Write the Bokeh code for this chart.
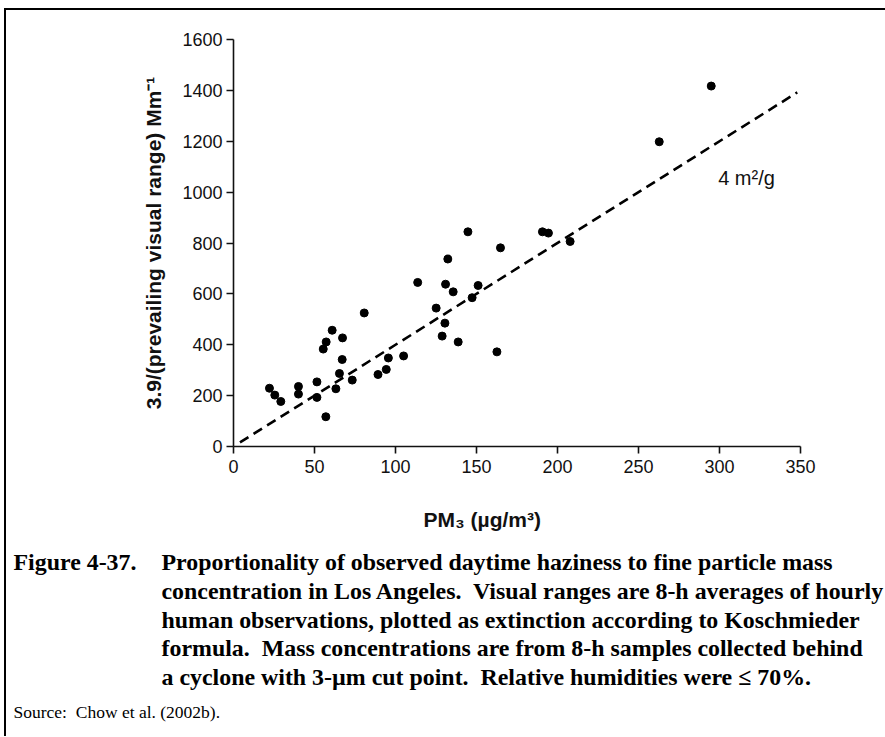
from bokeh.plotting import figure
from bokeh.models import Label, Range1d, FixedTicker
from bokeh.layouts import column
from bokeh.embed import file_html
from bokeh.resources import INLINE

# PM3 mass concentration (ug/m3)
pm3 = [22.2, 25.5, 29.2, 40.1, 40.1, 51.5, 51.5, 57.0, 55.4, 57.2,
       60.9, 67.3, 67.1, 65.4, 63.2, 73.3, 80.7, 89.2, 94.3, 95.6,
       105.0, 113.7, 125.1, 128.8, 130.5, 130.9, 132.3, 135.6, 138.7, 144.7,
       147.3, 151.0, 162.6, 164.8, 190.7, 194.4, 207.8, 262.8, 294.9]
# 3.9 / prevailing visual range (Mm-1)
bext = [229, 202, 177, 236, 206, 254, 193, 117, 383, 411,
        457, 427, 342, 287, 227, 261, 525, 283, 303, 348,
        356, 645, 544, 434, 485, 638, 737, 608, 411, 844,
        585, 633, 372, 781, 844, 839, 806, 1198, 1417]

slope = 4.0                      # m2/g
fit_x = [4, 348]
fit_y = [slope * v for v in fit_x]

x_ticks = [0, 50, 100, 150, 200, 250, 300, 350]
y_ticks = [0, 200, 400, 600, 800, 1000, 1200, 1400, 1600]

x_title = "PM\u2083 (\u00b5g/m\u00b3)"
y_title = "3.9/(prevailing visual range) Mm\u207b\u00b9"
fit_label = "4 m\u00b2/g"

SP2 = "\u00a0 "  # two visible spaces (SVG collapses plain double spaces)
caption_head = "Figure 4-37."
caption_lines = [
    "Proportionality of observed daytime haziness to fine particle mass",
    "concentration in Los Angeles." + SP2 + "Visual ranges are 8-h averages of hourly",
    "human observations, plotted as extinction according to Koschmieder",
    "formula." + SP2 + "Mass concentrations are from 8-h samples collected behind",
    "a cyclone with 3-\u00b5m cut point." + SP2 + "Relative humidities were \u2264 70%.",
]
source_text = "Source:" + SP2 + "Chow et al. (2002b)."

SANS = "Liberation Sans"
SERIF = "Liberation Serif"

# content origin on the page (after margin + frame border)
OX, OY = 6, 10
W = 885 - OX
HA = 495
HB = 737 - OY - HA - 1
FL, FT, FW, FH = 233 - OX, 39 - OY, 567, 407
XMAX, YMAX = 350, 1600

p = figure(frame_width=FW, frame_height=FH,
           min_border_left=FL, min_border_top=FT,
           min_border_right=W - FL - FW, min_border_bottom=HA - FT - FH,
           x_range=Range1d(0, XMAX), y_range=Range1d(0, YMAX),
           output_backend="svg", toolbar_location=None)
p.grid.visible = False
p.outline_line_color = None
p.background_fill_color = "white"
p.border_fill_color = "white"

for ax in (p.xaxis[0], p.yaxis[0]):
    ax.axis_line_width = 1.6
    ax.axis_line_color = "#111"
    ax.major_tick_line_width = 1.6
    ax.major_tick_line_color = "#111"
    ax.major_tick_in = 0
    ax.major_tick_out = 7
    ax.minor_tick_line_color = None
    ax.major_label_text_font = SANS
    ax.major_label_text_font_size = "18px"
    ax.major_label_text_color = "#111"
    ax.axis_label_text_font = SANS
    ax.axis_label_text_font_style = "bold"
    ax.axis_label_text_font_size = "21px"
    ax.axis_label_text_color = "#111"

p.xaxis[0].ticker = FixedTicker(ticks=x_ticks)
p.yaxis[0].ticker = FixedTicker(ticks=y_ticks)
p.yaxis[0].axis_label = y_title
p.xaxis[0].major_label_standoff = 6
p.yaxis[0].major_label_standoff = 4
p.yaxis[0].axis_label_standoff = 14

p.line(fit_x, fit_y, line_color="black", line_width=2.6, line_dash="10 6")
p.scatter(pm3, bext, size=8, fill_color="black", line_color="black")


def dx(page_x):
    return (page_x - OX - FL) / FW * XMAX


def dy(page_y):
    return (FT + FH - (page_y - OY)) / FH * YMAX


p.add_layout(Label(x=dx(746), y=dy(177), text=fit_label, text_font=SANS,
                   text_font_size="20px", text_align="center",
                   text_baseline="middle", text_color="#111"))

# lower panel: a frame-only figure whose data units are pixels from its top-left
q = figure(frame_width=W, frame_height=HB, min_border=0,
           x_range=Range1d(0, W), y_range=Range1d(HB, 0),
           x_axis_location=None, y_axis_location=None,
           output_backend="svg", toolbar_location=None)
q.grid.visible = False
q.outline_line_color = None
q.background_fill_color = "white"
q.border_fill_color = "white"

for fig in (p, q):
    try:
        fig.frame_align = False
    except Exception:
        pass

top_b = OY + HA
# x-axis title (offset to the left of the axis centre, as in the original)
q.add_layout(Label(x=423 - OX, y=519 - top_b, text=x_title, text_font=SANS,
                   text_font_style="bold", text_font_size="21px",
                   text_baseline="middle", text_color="#111"))

line_y = [561, 590, 619, 647, 676]
q.add_layout(Label(x=13 - OX, y=line_y[0] - top_b, text=caption_head, text_font=SERIF,
                   text_font_style="bold", text_font_size="23.9px",
                   text_baseline="middle", text_color="black"))
for t, yy in zip(caption_lines, line_y):
    q.add_layout(Label(x=161 - OX, y=yy - top_b, text=t, text_font=SERIF,
                       text_font_style="bold", text_font_size="23.9px",
                       text_baseline="middle", text_color="black"))
q.add_layout(Label(x=13 - OX, y=711 - top_b, text=source_text, text_font=SERIF,
                   text_font_size="17.5px", text_baseline="middle",
                   text_color="black"))

layout = column(p, q, spacing=0,
                styles={"margin-left": "4px", "margin-top": "8px",
                        "border-left": "2px solid #000",
                        "border-top": "2px solid #000"})

open("out.html", "w").write(file_html(layout, INLINE))
